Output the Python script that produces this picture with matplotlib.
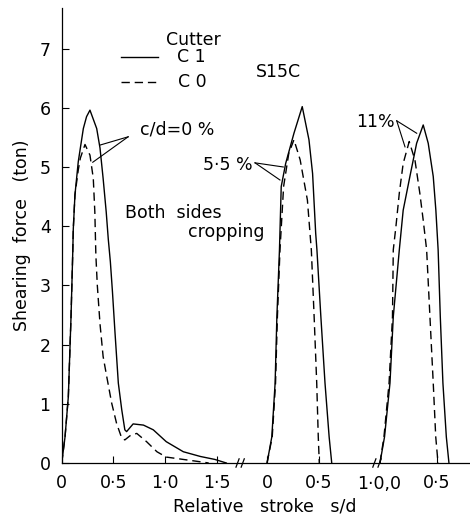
import numpy as np
import matplotlib
matplotlib.use("Agg")
import matplotlib.pyplot as plt

plt.rcParams['font.family'] = ['DejaVu Sans']

# panel 1: c/d = 0 %
p1_s_c1 = [0, 0.032, 0.064, 0.09, 0.106, 0.112, 0.128, 0.16, 0.209, 0.24, 0.273, 0.338, 0.37, 0.40, 0.43,
           0.45, 0.47, 0.49, 0.515, 0.547, 0.58, 0.61, 0.627, 0.69, 0.79, 0.885, 1.01, 1.175, 1.34, 1.48, 1.59]
p1_f_c1 = [0, 0.44, 1.12, 2.47, 3.51, 3.96, 4.53, 5.09, 5.65, 5.85, 5.96, 5.65, 5.32, 4.81, 4.24,
           3.78, 3.4, 2.9, 2.2, 1.35, 0.9, 0.56, 0.53, 0.66, 0.64, 0.56, 0.36, 0.19, 0.11, 0.06, 0]
p1_s_c0 = [0, 0.032, 0.064, 0.09, 0.106, 0.112, 0.128, 0.16, 0.18, 0.225, 0.273, 0.305, 0.32, 0.33, 0.344,
           0.37, 0.40, 0.435, 0.483, 0.53, 0.58, 0.61, 0.66, 0.725, 0.82, 0.92, 1.01, 1.175, 1.34, 1.42]
p1_f_c0 = [0, 0.44, 1.12, 2.47, 3.51, 3.96, 4.53, 4.95, 5.15, 5.38, 5.2, 4.81, 4.24, 3.51, 3.0,
           2.35, 1.8, 1.46, 1.01, 0.67, 0.42, 0.39, 0.46, 0.5, 0.36, 0.19, 0.1, 0.06, 0.02, 0]

# panel 2: c/d = 5.5 %
p2_s_c1 = [0, 0.046, 0.078, 0.095, 0.12, 0.137, 0.18, 0.26, 0.34, 0.405, 0.44, 0.47, 0.482, 0.52, 0.56, 0.6, 0.625]
p2_f_c1 = [0, 0.44, 1.35, 2.47, 3.6, 4.67, 5.06, 5.57, 6.02, 5.46, 4.89, 3.88, 3.6, 2.47, 1.35, 0.44, 0]
p2_s_c0 = [0, 0.05, 0.082, 0.1, 0.125, 0.16, 0.21, 0.26, 0.32, 0.39, 0.42, 0.428, 0.455, 0.48, 0.495, 0.505]
p2_f_c0 = [0, 0.44, 1.35, 2.47, 3.6, 4.67, 5.23, 5.46, 5.12, 4.44, 3.77, 3.6, 2.47, 1.35, 0.44, 0]

# panel 3: c/d = 11 %
p3_s_c1 = [0, 0.04, 0.088, 0.117, 0.17, 0.204, 0.263, 0.322, 0.38, 0.424, 0.468, 0.491, 0.511,
           0.53, 0.553, 0.583, 0.606]
p3_f_c1 = [0, 0.44, 1.35, 2.47, 3.6, 4.27, 4.84, 5.4, 5.71, 5.4, 4.84, 4.27, 3.6,
           2.47, 1.35, 0.44, 0]
p3_s_c0 = [0, 0.035, 0.08, 0.11, 0.117, 0.14, 0.17, 0.204, 0.257, 0.307, 0.35, 0.38, 0.41,
           0.439, 0.468, 0.49, 0.51]
p3_f_c0 = [0, 0.44, 1.35, 2.47, 3.6, 3.99, 4.56, 5.06, 5.43, 5.12, 4.56, 4.1, 3.6,
           2.47, 1.35, 0.44, 0]

# where each panel starts on the shared axis, and its scale
offsets = [0.0, 1.984, 3.075]
scales = [1.0, 1.0, 1.1]
breaks = [1.724, 3.046]

fig = plt.figure(figsize=(4.70, 5.18), dpi=100)
ax = fig.add_axes([0.1313, 0.1062, 0.8687, 0.8784])

panels = [(p1_s_c1, p1_f_c1, p1_s_c0, p1_f_c0),
          (p2_s_c1, p2_f_c1, p2_s_c0, p2_f_c0),
          (p3_s_c1, p3_f_c1, p3_s_c0, p3_f_c0)]
for (sa, fa, sb, fb), off, sc in zip(panels, offsets, scales):
    ax.plot(off + sc * np.array(sa), fa, color='black', lw=1.0)
    ax.plot(off + sc * np.array(sb), fb, color='black', lw=1.0, dashes=(6, 3.5))

ax.set_xlim(0, 3.945)
ax.set_ylim(0, 7.686)
for side in ['top', 'right']:
    ax.spines[side].set_visible(False)
ax.spines['left'].set_linewidth(0.9)
ax.spines['bottom'].set_linewidth(0.9)

ax.set_yticks(range(8))
ax.set_yticklabels([str(i) for i in range(8)], fontsize=12.5)
xt = [0, 0.5, 1.0, 1.5, offsets[1], offsets[1] + 0.5, offsets[2] + 0.5 * scales[2]]
xl = ['0', '0·5', '1·0', '1·5', '0', '0·5', '0·5']
ax.set_xticks(xt)
ax.set_xticklabels(xl, fontsize=12.5)
ax.tick_params(direction='in', length=5, width=0.8, pad=8)
ax.text(breaks[1] + 0.02, -0.2, '1·0,0', ha='center', va='top', fontsize=12.5)

# break marks on the stroke axis
for b in breaks:
    for dx in (-0.025, 0.025):
        ax.plot([b + dx - 0.015, b + dx + 0.015], [-0.07, 0.07], color='black', lw=0.9, clip_on=False)

ax.set_ylabel('Shearing  force   (ton)', fontsize=12.5, labelpad=6)
ax.set_xlabel('Relative   stroke   s/d', fontsize=12.5, labelpad=4)
ax.xaxis.set_label_coords(0.497, -0.075)

# legend drawn by hand like the original
ax.text(1.268, 7.145, 'Cutter', ha='center', va='center', fontsize=12.5)
ax.plot([0.574, 0.931], [6.858, 6.858], color='black', lw=1.0)
ax.text(1.114, 6.858, 'C 1', ha='left', va='center', fontsize=12.5)
ax.plot([0.574, 0.931], [6.436, 6.436], color='black', lw=1.0, dashes=(6, 3.5))
ax.text(1.124, 6.436, 'C 0', ha='left', va='center', fontsize=12.5)
ax.text(2.09, 6.60, 'S15C', ha='center', va='center', fontsize=12.5)

ax.text(0.757, 5.625, 'c/d=0 %', ha='left', va='center', fontsize=12.5)
ax.plot([0.642, 0.37], [5.51, 5.37], color='black', lw=0.8)
ax.plot([0.642, 0.30], [5.51, 5.08], color='black', lw=0.8)
ax.text(0.612, 4.22, 'Both  sides', ha='left', va='center', fontsize=12.5)
ax.text(1.22, 3.90, 'cropping', ha='left', va='center', fontsize=12.5)

ax.text(1.84, 5.03, '5·5 %', ha='right', va='center', fontsize=12.5)
ax.plot([1.868, 2.141], [5.07, 5.0], color='black', lw=0.8)
ax.plot([1.868, 2.109], [5.07, 4.78], color='black', lw=0.8)

ax.text(3.22, 5.76, '11%', ha='right', va='center', fontsize=12.5)
ax.plot([3.237, 3.43], [5.78, 5.57], color='black', lw=0.8)
ax.plot([3.237, 3.317], [5.78, 5.34], color='black', lw=0.8)

fig.savefig('out.png', dpi=100)
